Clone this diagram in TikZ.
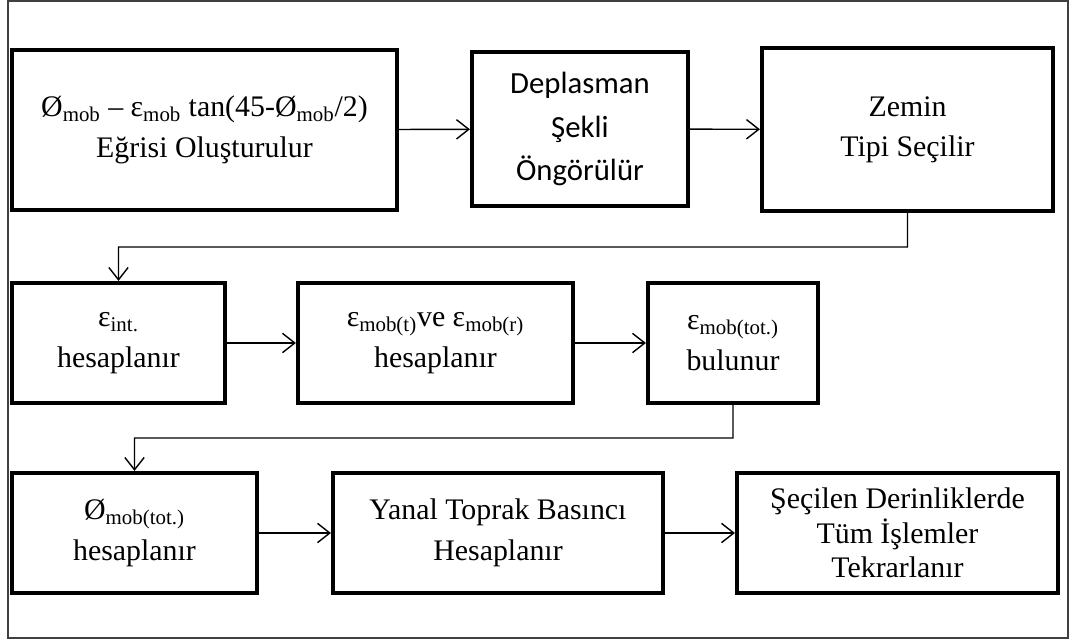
\documentclass[tikz,border=0pt]{standalone}
\usepackage{fontspec}
\setmainfont{Liberation Serif}
\newfontfamily\calibri{Carlito}
\usetikzlibrary{arrows.meta,calc}
\def\indis#1{\textsubscript{#1}}

\tikzset{
	kutu/.style={draw, line width=2.4pt, inner sep=0pt, align=center, font=\fontsize{17}{23}\selectfont},
	ok/.style={-{Straight Barb[length=7pt,width=11pt]}, line width=0.8pt},
}

\begin{document}
\begin{tikzpicture}[x=0.02cm, y=-0.02cm]
			%%%%% START %%%%%
			
			\useasboundingbox (0,0) rectangle (1075,642);
			\draw[line width=0.6pt, color=black!75] (8,1) rectangle (1068,638);
			
			% first row
			\node[kutu, minimum width=7.7cm, minimum height=3.2cm] (egri) at (204.5,130) {Ø\indis{mob} – ε\indis{mob} tan(45-Ø\indis{mob}/2)\\Eğrisi Oluşturulur};
			\node[kutu, minimum width=4.32cm, minimum height=3.08cm, font=\calibri\fontsize{17.5}{24.5}\selectfont] (deplasman) at (580,129) {Deplasman\\Şekli\\Öngörülür};
			\node[kutu, minimum width=5.82cm, minimum height=3.26cm] (zemin) at (907.5,129.5) {Zemin\\Tipi Seçilir};
			
			\draw[ok] (egri) -- (deplasman);
			\draw[ok] (deplasman) -- (zemin);
			
			% second row
			\node[kutu, minimum width=4.26cm, minimum height=2.4cm] (eint) at (118.5,343) {ε\indis{int.}\\hesaplanır};
			\node[kutu, minimum width=5.5cm, minimum height=2.4cm] (emob) at (435.5,343) {ε\indis{mob(t)}ve ε\indis{mob(r)}\\hesaplanır};
			\node[kutu, minimum width=3.4cm, minimum height=2.4cm] (etot) at (733,343) {ε\indis{mob(tot.)}\\bulunur};
			
			\draw[ok] (zemin.south) -- ($(zemin.south)!.5!(zemin.south|-eint.north)$) -| (eint.north);
			\draw[ok] (eint) -- (emob);
			\draw[ok] (emob) -- (etot);
			
			% third row
			\node[kutu, minimum width=4.9cm, minimum height=2.4cm] (fitot) at (134.5,533) {Ø\indis{mob(tot.)}\\hesaplanır};
			\node[kutu, minimum width=6.6cm, minimum height=2.4cm] (yanal) at (498,533) {Yanal Toprak Basıncı\\Hesaplanır};
			\node[kutu, minimum width=6.42cm, minimum height=2.4cm, font=\fontsize{17}{19.5}\selectfont] (tekrar) at (897.5,533) {Şeçilen Derinliklerde\\Tüm İşlemler\\Tekrarlanır};
			
			\draw[ok] (etot.south) -- ($(etot.south)!.5!(etot.south|-fitot.north)$) -| (fitot.north);
			\draw[ok] (fitot) -- (yanal);
			\draw[ok] (yanal) -- (tekrar);
			
			%%%%% END %%%%%
\end{tikzpicture}
\end{document}
